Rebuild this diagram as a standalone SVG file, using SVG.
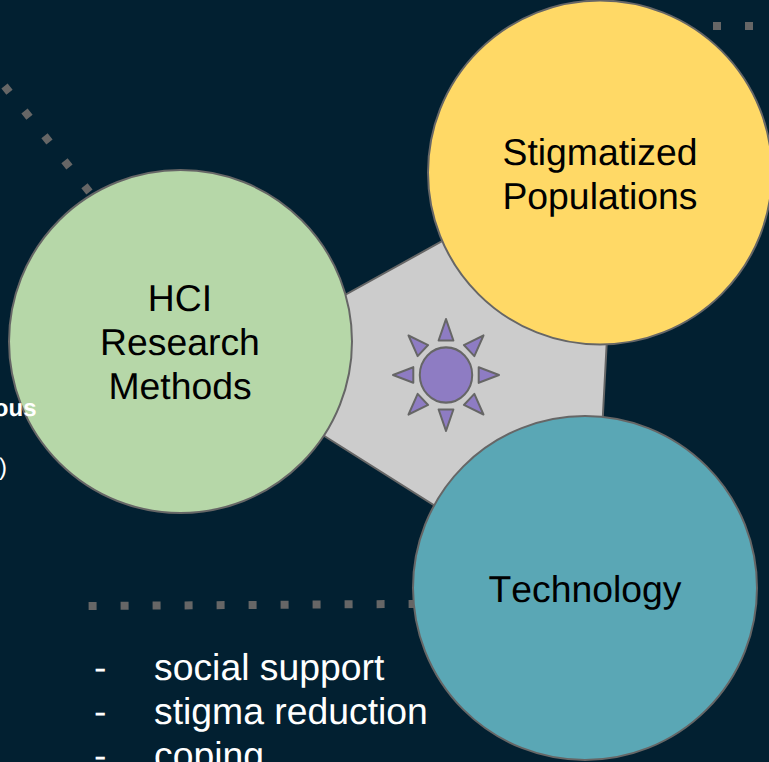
<svg xmlns="http://www.w3.org/2000/svg" xmlns:xlink="http://www.w3.org/1999/xlink" width="769" height="762" viewBox="0 0 769 762">
<style>
text{font-family:"Liberation Sans",Arial,sans-serif;font-size:37.33px;fill:#000;font-kerning:none;text-rendering:geometricPrecision}
.w{fill:#fff}
.c{text-anchor:middle}
.n{stroke:#666;stroke-width:2}
.d{fill:none;stroke:#666;stroke-width:8;stroke-dasharray:8 24}
.s{fill:#8e7cc3;stroke:#666;stroke-width:2;stroke-linejoin:round}
</style>
<defs><polygon id="ray" class="s" points="0,-53 7.4,-32.7 -7.4,-32.7"/></defs>
<rect width="769" height="762" fill="#022031"/>
<g id="connectors">
<line class="d" x1="4.5" y1="85.9" x2="95" y2="199"/>
<line class="d" x1="88.6" y1="606" x2="430" y2="603.8"/>
<line class="d" x1="713" y1="26" x2="769" y2="26"/>
</g>
<g id="hub">
<polygon class="n" fill="#ccc" points="280,331 500,209 609,300 600,470 470,528 280,408"/>
<g id="sun" transform="translate(446 375) scale(1 1.055)">
<circle class="s" r="26.2"/>
<use xlink:href="#ray" href="#ray"/>
<use xlink:href="#ray" href="#ray" transform="rotate(45)"/>
<use xlink:href="#ray" href="#ray" transform="rotate(90)"/>
<use xlink:href="#ray" href="#ray" transform="rotate(135)"/>
<use xlink:href="#ray" href="#ray" transform="rotate(180)"/>
<use xlink:href="#ray" href="#ray" transform="rotate(225)"/>
<use xlink:href="#ray" href="#ray" transform="rotate(270)"/>
<use xlink:href="#ray" href="#ray" transform="rotate(315)"/>
</g>
</g>
<g id="hci">
<circle class="n" cx="180.5" cy="341.5" r="171.5" fill="#b6d7a8"/>
<text class="c" x="180" y="311">HCI</text>
<text class="c" x="180" y="355">Research</text>
<text class="c" x="180" y="399">Methods</text>
</g>
<g id="stigmatized">
<circle class="n" cx="600" cy="172.5" r="172" fill="#ffd966"/>
<text class="c" x="600" y="165">Stigmatized</text>
<text class="c" x="600" y="209">Populations</text>
</g>
<g id="technology">
<circle class="n" cx="585" cy="588" r="172" fill="#5aa7b5"/>
<text class="c" x="585" y="602">Technology</text>
</g>
<g id="fragments">
<text class="w" x="36.5" y="416" text-anchor="end" font-weight="bold" style="font-size:24px">ous</text>
<text class="w" x="7" y="475" text-anchor="end" style="font-size:24px">)</text>
</g>
<g id="list">
<text class="w" x="94" y="680">-</text><text class="w" x="154" y="680">social support</text>
<text class="w" x="94" y="724">-</text><text class="w" x="154" y="724">stigma reduction</text>
<text class="w" x="94" y="768">-</text><text class="w" x="154" y="768">coping</text>
</g>
</svg>
